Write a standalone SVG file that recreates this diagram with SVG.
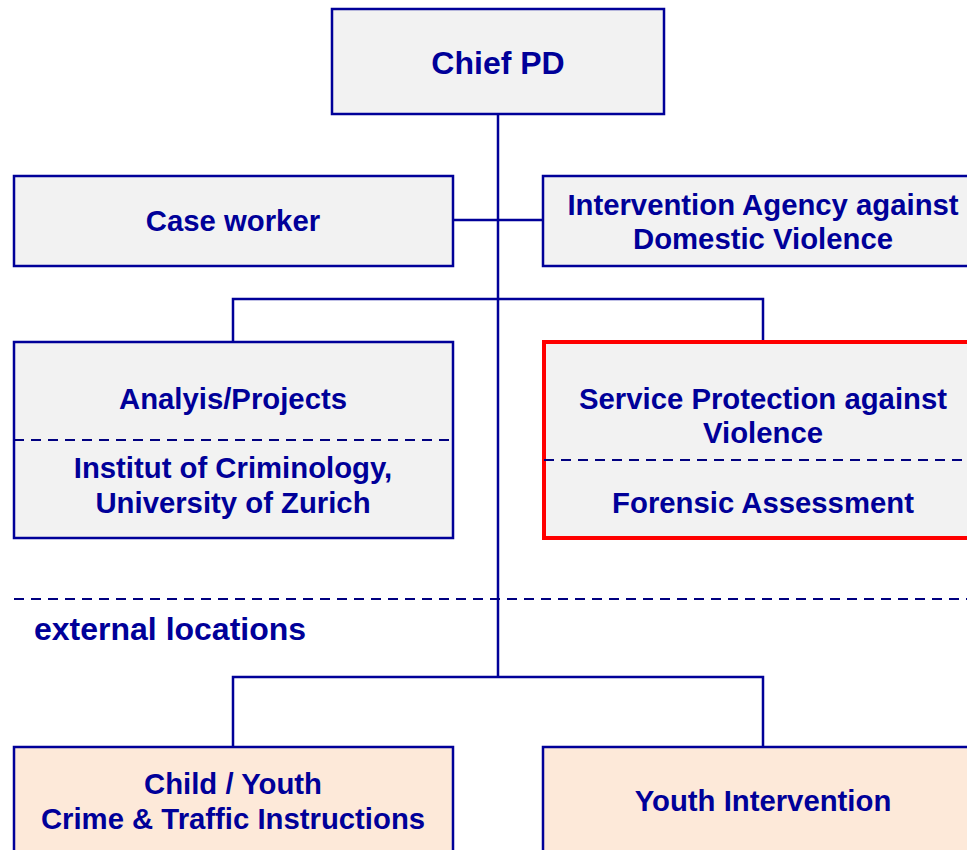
<svg xmlns="http://www.w3.org/2000/svg" width="967" height="850" viewBox="0 0 967 850">
<style>
.box{fill:#f2f2f2;stroke:#000099;stroke-width:2.5}
.ext{fill:#fde9d9;stroke:#000099;stroke-width:2.5}
.red{fill:#f2f2f2;stroke:#ff0000;stroke-width:4}
.ln{fill:none;stroke:#000099;stroke-width:2.5}
.dash{fill:none;stroke:#000080;stroke-width:2;stroke-dasharray:10 7}
text{font-family:"Liberation Sans",Arial,sans-serif;font-weight:bold;fill:#000099;font-size:29.3px;text-anchor:middle}
.big{font-size:32px}
.left{text-anchor:start;font-size:32px}
</style>
<rect x="0" y="0" width="967" height="850" fill="#ffffff"/>
<g id="connectors">
<path class="ln" d="M498 114 V677"/>
<path class="ln" d="M453 220 H543"/>
<path class="ln" d="M233 342 V299 H763 V342"/>
<path class="ln" d="M233 747 V677 H763 V747"/>
</g>
<g id="separator">
<path class="dash" d="M14 599 H967"/>
<text class="left" x="34" y="640">external locations</text>
</g>
<g id="chief">
<rect class="box" x="332" y="9" width="332" height="105"/>
<text class="big" x="498" y="74">Chief PD</text>
</g>
<g id="caseworker">
<rect class="box" x="14" y="176" width="439" height="90"/>
<text x="233" y="231">Case worker</text>
</g>
<g id="intervention">
<rect class="box" x="543" y="176" width="430" height="90"/>
<text x="763" y="215">Intervention Agency against</text>
<text x="763" y="249">Domestic Violence</text>
</g>
<g id="analysis">
<rect class="box" x="14" y="342" width="439" height="196"/>
<path class="dash" d="M14 440 H453"/>
<text x="233" y="409">Analyis/Projects</text>
<text x="233" y="478">Institut of Criminology,</text>
<text x="233" y="513">University of Zurich</text>
</g>
<g id="service">
<rect class="red" x="544" y="342" width="430" height="196"/>
<path class="dash" d="M544 460 H967"/>
<text x="763" y="409">Service Protection against</text>
<text x="763" y="443">Violence</text>
<text x="763" y="513">Forensic Assessment</text>
</g>
<g id="childyouth">
<rect class="ext" x="14" y="747" width="439" height="110"/>
<text x="233" y="794">Child / Youth</text>
<text x="233" y="829">Crime &amp; Traffic Instructions</text>
</g>
<g id="youthintervention">
<rect class="ext" x="543" y="747" width="430" height="110"/>
<text x="763" y="811">Youth Intervention</text>
</g>
</svg>
